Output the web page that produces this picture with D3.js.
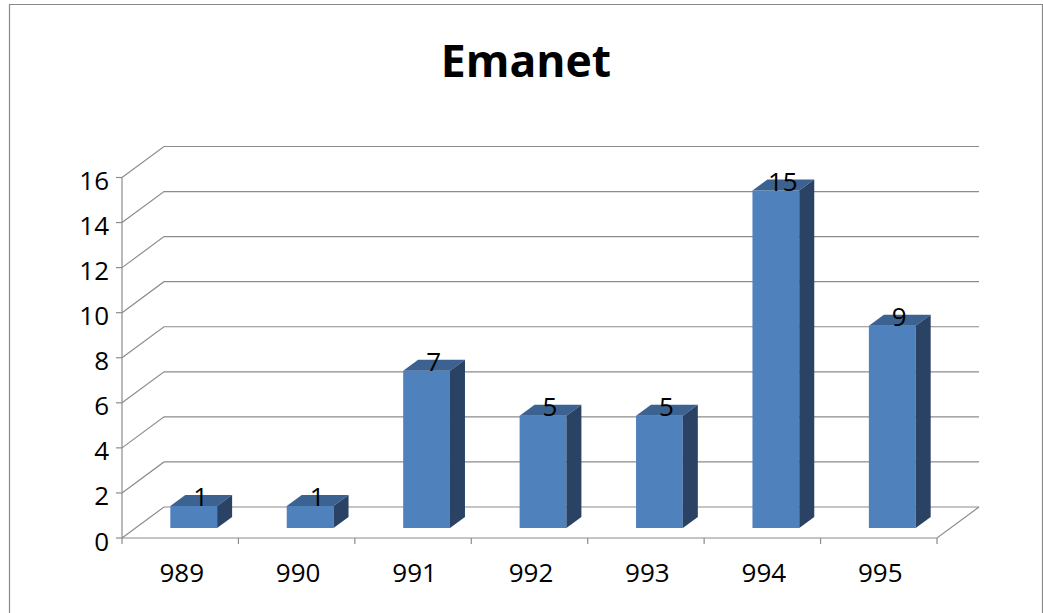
<!DOCTYPE html>
<html><head><meta charset="utf-8">
<script src="https://cdn.jsdelivr.net/npm/d3@7"></script>
<style>html,body{margin:0;padding:0;background:#fff}svg{display:block}text{font-family:"Open Sans",sans-serif;fill:#000}</style>
</head><body><div id="c"></div>
<script>
const categories = ["989","990","991","992","993","994","995"];
const values = [1,1,7,5,5,15,9];
const yTicks = [0,2,4,6,8,10,12,14,16];
const title = "Emanet";

const W=1043,H=613;
const svg=d3.select("#c").append("svg").attr("width",W).attr("height",H);
const x=d3.scaleBand().domain(categories).range([122,937]);
const y=d3.scaleLinear().domain([0,16]).range([538,177.5]);
const depth={dx:42,dy:-31}, barOff={dx:13.5,dy:-10}, barD={dx:15,dy:-11};
const barW=46.8;
const grid="#8c8c8c";

svg.append("path").attr("d",`M9.5,${H}V4.5H1042.5V${H}`).attr("fill","none").attr("stroke","#8a8a8a").attr("stroke-width",1.2);

svg.append("text").attr("x",526).attr("y",77).attr("text-anchor","middle")
  .attr("font-size",44.5).attr("font-weight",700).text(title);

// walls
const g=svg.append("g").attr("fill","none").attr("stroke",grid).attr("stroke-width",1.2);
yTicks.forEach(t=>{
  const Y=y(t);
  g.append("path").attr("d",`M${x.range()[0]},${Y}L${x.range()[0]+depth.dx},${Y+depth.dy}H${x.range()[1]+depth.dx}`);
  g.append("line").attr("x1",x.range()[0]-6).attr("x2",x.range()[0]).attr("y1",Y).attr("y2",Y);
});
g.append("line").attr("x1",122).attr("x2",122).attr("y1",y(0)).attr("y2",y(16));
g.append("path").attr("d",`M122,${y(0)}H937L${937+depth.dx},${y(0)+depth.dy}`);
categories.forEach(c=>g.append("line").attr("x1",x(c)).attr("x2",x(c)).attr("y1",y(0)).attr("y2",y(0)+6));
g.append("line").attr("x1",937).attr("x2",937).attr("y1",y(0)).attr("y2",y(0)+6);

// y labels
svg.append("g").selectAll("text").data(yTicks).join("text")
  .attr("x",109).attr("y",d=>y(d)+12.5).attr("text-anchor","end").attr("font-size",26).text(d=>d);
// x labels
svg.append("g").selectAll("text").data(categories).join("text")
  .attr("x",d=>x(d)+x.bandwidth()/2+1.5).attr("y",581.5).attr("text-anchor","middle").attr("font-size",26).text(d=>d);

// bars
const bars=svg.append("g").selectAll("g").data(categories.map((c,i)=>({c,v:values[i]}))).join("g");
const xL=d=>x(d.c)+x.bandwidth()/2-barW/2+barOff.dx;
const yB=y(0)+barOff.dy;
const yT=d=>y(d.v)+barOff.dy+0.5;
bars.append("polygon").attr("fill","#4f81bd")
  .attr("points",d=>[[xL(d),yT(d)],[xL(d)+barW,yT(d)],[xL(d)+barW,yB],[xL(d),yB]].join(" "));
bars.append("polygon").attr("fill","#3b6290")
  .attr("points",d=>[[xL(d),yT(d)],[xL(d)+barD.dx,yT(d)+barD.dy],[xL(d)+barW+barD.dx,yT(d)+barD.dy],[xL(d)+barW,yT(d)]].join(" "));
bars.append("polygon").attr("fill","#2a4365")
  .attr("points",d=>[[xL(d)+barW,yT(d)],[xL(d)+barW+barD.dx,yT(d)+barD.dy],[xL(d)+barW+barD.dx,yB+barD.dy],[xL(d)+barW,yB]].join(" "));
bars.append("text").attr("x",d=>xL(d)+barW/2+7).attr("y",d=>yT(d)+0.5).attr("text-anchor","middle")
  .attr("font-size",26).text(d=>d.v);
</script></body></html>
